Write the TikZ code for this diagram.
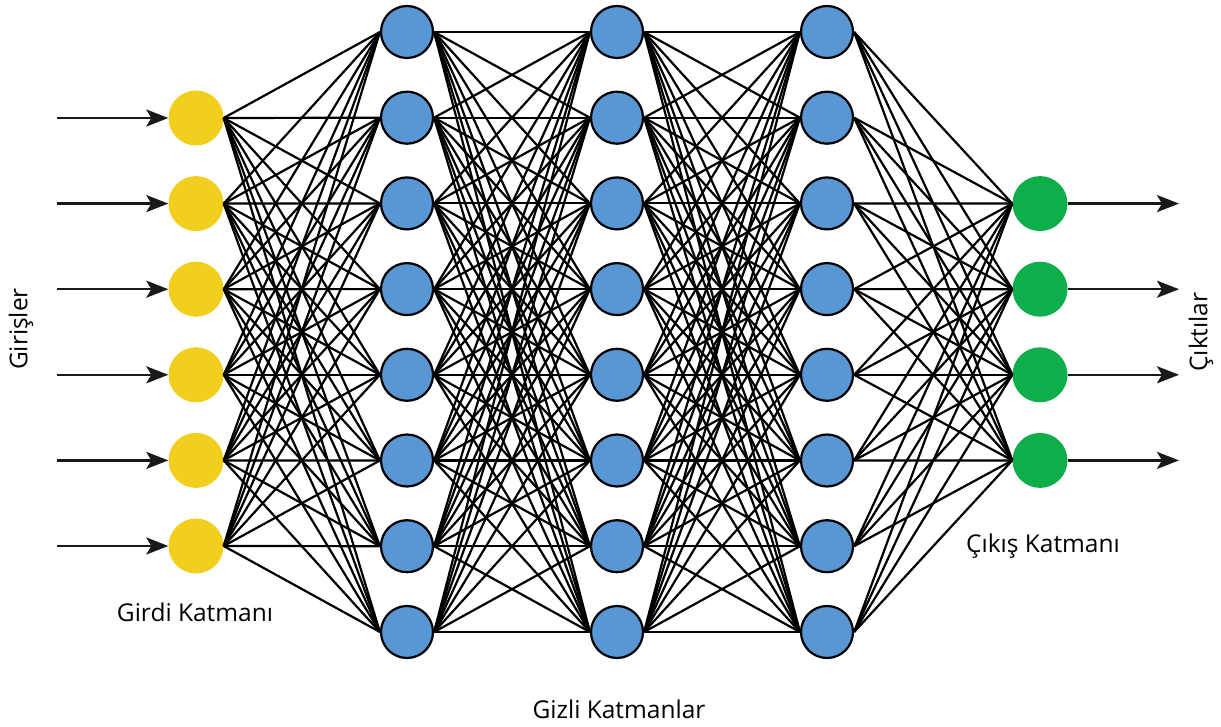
\documentclass[tikz,border=0pt]{standalone}
\usepackage{fontspec}
\setmainfont{Open Sans}
\usetikzlibrary{arrows.meta}
\definecolor{inyellow}{RGB}{242,206,30}
\definecolor{hidblue}{RGB}{88,150,212}
\definecolor{outgreen}{RGB}{14,174,74}
\definecolor{linegray}{RGB}{25,25,25}
\tikzset{
  inneuron/.style={circle,fill=inyellow,minimum size=55pt,inner sep=0pt},
  hidneuron/.style={circle,fill=hidblue,draw=black,line width=2.2pt,minimum size=52pt,inner sep=0pt},
  outneuron/.style={circle,fill=outgreen,minimum size=55pt,inner sep=0pt},
  conn/.style={draw=black,line width=2.2pt},
  ioarrow/.style={draw=linegray,line width=2.6pt,-{Stealth[length=22pt,width=17pt,inset=5pt]}},
  lbl/.style={font=\fontsize{24.5}{28}\selectfont,text=black,inner sep=0pt}
}
\begin{document}
\begin{tikzpicture}[x=1pt,y=-1pt]
\useasboundingbox (0,0) rectangle (1221,727);
% input layer
\foreach \i/\y in {1/118,2/203.6,3/289.2,4/374.8,5/460.4,6/546}{
  \node[inneuron] (I\i) at (196,\y) {};
}
% hidden layers
\foreach \l/\x in {1/407,2/617,3/827}{
  \foreach \i/\y in {1/32,2/117.7,3/203.4,4/289.1,5/374.8,6/460.5,7/546.2,8/632}{
    \node[hidneuron] (H\l-\i) at (\x,\y) {};
  }
}
% output layer
\foreach \i/\y in {1/203.6,2/289.2,3/374.8,4/460.4}{
  \node[outneuron] (O\i) at (1040,\y) {};
}
% connections
\foreach \i in {1,...,6}{
  \foreach \j in {1,...,8}{
    \draw[conn] (I\i.east) -- (H1-\j.west);
  }
}
\foreach \a/\b in {1/2,2/3}{
  \foreach \i in {1,...,8}{
    \foreach \j in {1,...,8}{
      \draw[conn] (H\a-\i.east) -- (H\b-\j.west);
    }
  }
}
\foreach \i in {1,...,8}{
  \foreach \j in {1,...,4}{
    \draw[conn] (H3-\i.east) -- (O\j.west);
  }
}
% input arrows
\foreach \i/\y in {1/118,2/203.6,3/289.2,4/374.8,5/460.4,6/546}{
  \coordinate (S\i) at (57,\y);
  \draw[ioarrow] (S\i) -- (I\i.west);
}
% output arrows
\foreach \i/\y in {1/203.6,2/289.2,3/374.8,4/460.4}{
  \coordinate (E\i) at (1179,\y);
  \draw[ioarrow] (O\i.east) -- (E\i);
}
% labels
\node[lbl,rotate=90] (girisler) at (21,329) {Girişler};
\node[lbl,rotate=90] (ciktilar) at (1201,332) {Çıktılar};
\node[lbl] (girdi) at (195,612) {Girdi Katmanı};
\node[lbl] (gizli) at (619,709) {Gizli Katmanlar};
\node[lbl] (cikis) at (1043,546) {Çıkış Katmanı};
\end{tikzpicture}
\end{document}
